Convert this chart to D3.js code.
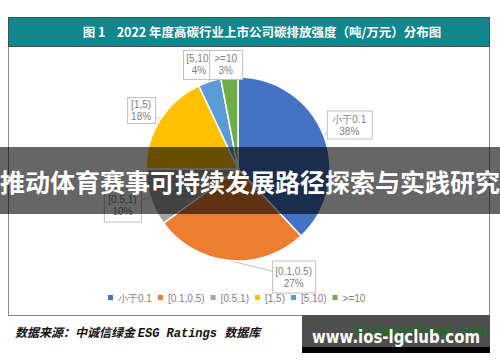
<!DOCTYPE html>
<html>
<head>
<meta charset="utf-8">
<script src="https://cdn.jsdelivr.net/npm/d3@7"></script>
<style>
  body { margin: 0; background: #fff; }
  svg { display: block; }
</style>
</head>
<body>
<div id="chart"></div>
<script>
// data
const categories = ["小于0.1", "[0.1,0.5)", "[0.5,1)", "[1,5)", "[5,10)", ">=10"];
const shares = [38, 27, 10, 18, 4, 3];
const labelNames = ["小于0.1", "[0.1,0.5)", "[0.5,1)", "[1,5)", "[5,10)", ">=10"];
const colors = ["#4472C4", "#ED7D31", "#A5A5A5", "#FFC000", "#5B9BD5", "#70AD47"];

const width = 500, height = 362;
const cx = 238, cy = 169, r = 92;

const svg = d3.select("#chart").append("svg")
    .attr("width", width)
    .attr("height", height);

// frame + title bar
svg.append("rect")
    .attr("x", 8.5).attr("y", 17.5).attr("width", 481).attr("height", 298)
    .attr("fill", "#fff").attr("stroke", "#8c8c8c").attr("stroke-width", 1);
svg.append("rect")
    .attr("x", 8.5).attr("y", 17.5).attr("width", 481).attr("height", 29)
    .attr("fill", "#0f878c").attr("stroke", "#4d4d4d").attr("stroke-width", 1);
svg.append("text")
    .attr("x", 262).attr("y", 37)
    .attr("text-anchor", "middle")
    .attr("fill", "#fff")
    .style("white-space", "pre")
    .style("font-family", "'Noto Sans CJK SC', sans-serif")
    .style("font-weight", "bold")
    .style("font-size", "12.5px")
    .text("图 1    2022 年度高碳行业上市公司碳排放强度（吨/万元）分布图");

// pie
const pie = d3.pie().sort(null).value(d => d)(shares);
const arc = d3.arc().innerRadius(0).outerRadius(r);
const labelArc = d3.arc().innerRadius(110).outerRadius(110);
const edgeArc = d3.arc().innerRadius(r).outerRadius(r);

// small nudges for label boxes (layout only)
const nudge = [[9, -4], [66, -2], [-11, 2], [-4, 0], [-5, 0], [-2, 5]];

const g = svg.append("g").attr("transform", `translate(${cx},${cy})`);

const lp = pie.map((p, i) => {
    const c = labelArc.centroid(p);
    return [c[0] + nudge[i][0], c[1] + nudge[i][1]];
});

// leader lines
g.selectAll("line.leader").data(pie).enter().append("line")
    .attr("class", "leader")
    .attr("x1", d => edgeArc.centroid(d)[0])
    .attr("y1", d => edgeArc.centroid(d)[1])
    .attr("x2", (d, i) => lp[i][0])
    .attr("y2", (d, i) => lp[i][1])
    .attr("stroke", "#bfbfbf").attr("stroke-width", 1);

g.selectAll("path").data(pie).enter().append("path")
    .attr("d", arc)
    .attr("fill", (d, i) => colors[i])
    .attr("stroke", "#fff")
    .attr("stroke-width", 1.5);

// label boxes
const boxW = [45, 43, 37, 28, 32, 33];
const boxH = [28, 32, 33, 26, 29, 29];
pie.forEach((p, i) => {
    const lg = g.append("g").attr("transform", `translate(${lp[i][0]},${lp[i][1]})`);
    lg.append("rect")
        .attr("x", -boxW[i] / 2 + 0.5).attr("y", -boxH[i] / 2 + 0.5)
        .attr("width", boxW[i]).attr("height", boxH[i])
        .attr("fill", "#fff").attr("stroke", "#bfbfbf");
    const t = lg.append("text")
        .attr("text-anchor", "middle")
        .attr("fill", "#7f7f7f")
        .style("font-family", "'Liberation Sans', Arial, sans-serif")
        .style("font-size", "10px");
    t.append("tspan").attr("x", 0).attr("y", -2).text(labelNames[i]);
    t.append("tspan").attr("x", 0).attr("y", 10).text(shares[i] + "%");
});

// legend
const legend = svg.append("g").attr("transform", "translate(0,298)");
let lx = 108;
categories.forEach((c, i) => {
    legend.append("rect")
        .attr("x", lx).attr("y", -3).attr("width", 5).attr("height", 5)
        .attr("fill", colors[i]);
    const t = legend.append("text")
        .attr("x", lx + 10).attr("y", 3.5)
        .attr("fill", "#7f7f7f")
        .style("font-family", "'Liberation Sans', Arial, sans-serif")
        .style("font-size", "10px")
        .text(c);
    lx += 10 + t.node().getComputedTextLength() + 6;
});

// source note
const src = svg.append("text")
    .attr("x", 15).attr("y", 337)
    .attr("fill", "#111")
    .style("font-weight", "bold")
    .style("font-style", "italic")
    .style("font-size", "12px");
src.append("tspan").style("font-family", "'Noto Sans CJK SC', sans-serif").text("数据来源：中诚信绿金 ");
src.append("tspan").style("font-family", "'Liberation Mono', monospace").text("ESG Ratings ");
src.append("tspan").style("font-family", "'Noto Sans CJK SC', sans-serif").text("数据库");

// overlay band
svg.append("rect")
    .attr("x", 0).attr("y", 147).attr("width", width).attr("height", 67)
    .attr("fill", "rgba(0,0,0,0.6)");
svg.append("text")
    .attr("x", 250).attr("y", 192)
    .attr("text-anchor", "middle")
    .attr("fill", "#fff")
    .style("font-family", "'Noto Sans CJK SC', sans-serif")
    .style("font-weight", "bold")
    .style("font-size", "25px")
    .text("推动体育赛事可持续发展路径探索与实践研究");

// watermark
svg.append("rect").attr("x", 302).attr("y", 315).attr("width", 188).attr("height", 32).attr("fill", "#4f4f4f");
svg.append("rect").attr("x", 302).attr("y", 347).attr("width", 188).attr("height", 6).attr("fill", "#000");
svg.append("text")
    .attr("x", 355).attr("y", 336)
    .attr("fill", "#1f6b2a")
    .attr("textLength", 133)
    .attr("lengthAdjust", "spacingAndGlyphs")
    .style("font-family", "'DejaVu Sans', sans-serif")
    .style("font-weight", "bold")
    .style("font-size", "14px")
    .text("G tanpaifang.com");
svg.append("text")
    .attr("x", 312).attr("y", 343)
    .attr("fill", "#fff")
    .attr("textLength", 168)
    .attr("lengthAdjust", "spacingAndGlyphs")
    .style("font-family", "'DejaVu Sans', sans-serif")
    .style("font-weight", "bold")
    .style("font-size", "18px")
    .text("www.ios-lgclub.com");
</script>
</body>
</html>
